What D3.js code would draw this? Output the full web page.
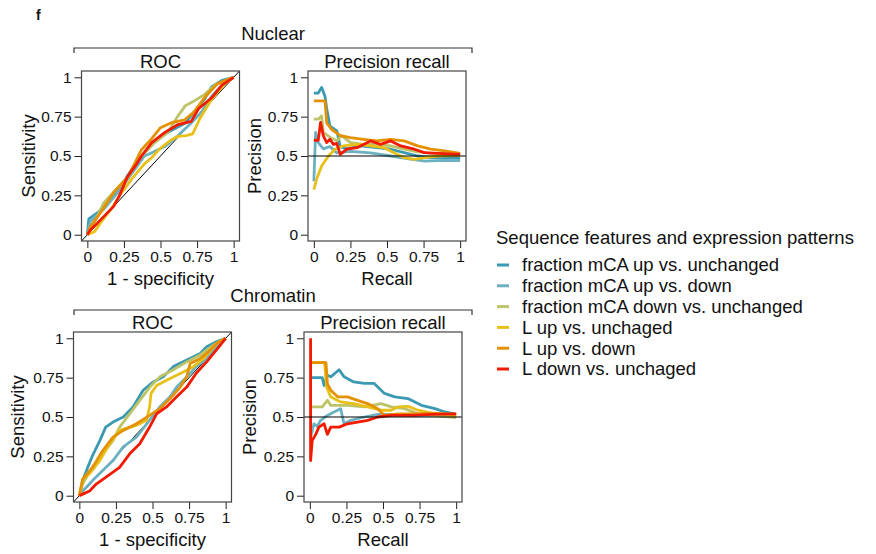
<!DOCTYPE html>
<html>
<head>
<meta charset="utf-8">
<script src="https://d3js.org/d3.v7.min.js"></script>
<style>
  body { margin: 0; background: #fff; }
  text { font-family: "Liberation Sans", Arial, Helvetica, sans-serif; fill: #111; }
</style>
</head>
<body>
<script>
// series, in drawing order (last one on top)
var seriesNames = ["fraction mCA up vs. unchanged", "fraction mCA up vs. down",
  "fraction mCA down vs. unchanged", "L up vs. unchaged", "L up vs. down", "L down vs. unchaged"];
var seriesColors = ["#3B9AB2", "#6CB1C1", "#BDC468", "#E7C019", "#E49100", "#F21A00"];
var tickValues = [0, 0.25, 0.5, 0.75, 1];
var tickLabels = ["0", "0.25", "0.5", "0.75", "1"];

// Nuclear, ROC: [1 - specificity, sensitivity]
var nucRoc = [
  [[0,0],[0.01,0.1],[0.07,0.14],[0.14,0.2],[0.23,0.31],[0.32,0.44],[0.39,0.52],[0.48,0.61],[0.57,0.66],[0.67,0.71],[0.73,0.78],[0.8,0.86],[0.85,0.94],[0.92,0.98],[1,1]],
  [[0,0],[0.02,0.085],[0.11,0.16],[0.21,0.27],[0.32,0.41],[0.39,0.5],[0.44,0.52],[0.53,0.56],[0.62,0.63],[0.71,0.71],[0.78,0.78],[0.85,0.88],[0.92,0.95],[1,1]],
  [[0,0],[0.04,0.06],[0.07,0.12],[0.11,0.2],[0.18,0.27],[0.28,0.37],[0.37,0.5],[0.46,0.585],[0.55,0.65],[0.62,0.755],[0.67,0.82],[0.73,0.85],[0.8,0.89],[0.87,0.95],[1,1]],
  [[0,0],[0.05,0.02],[0.09,0.075],[0.16,0.16],[0.23,0.26],[0.3,0.35],[0.39,0.45],[0.44,0.49],[0.5,0.55],[0.57,0.6],[0.62,0.625],[0.675,0.63],[0.72,0.64],[0.77,0.74],[0.85,0.86],[0.94,0.96],[1,1]],
  [[0,0],[0.02,0.05],[0.09,0.14],[0.18,0.27],[0.28,0.37],[0.37,0.54],[0.44,0.61],[0.5,0.68],[0.57,0.71],[0.665,0.73],[0.73,0.78],[0.8,0.87],[0.89,0.96],[1,1]],
  [[0,0],[0.02,0.03],[0.07,0.075],[0.18,0.18],[0.22,0.25],[0.275,0.37],[0.33,0.44],[0.37,0.5],[0.44,0.585],[0.53,0.65],[0.62,0.7],[0.71,0.72],[0.76,0.8],[0.85,0.87],[0.92,0.95],[1,1]]
];

// Nuclear, precision recall: [recall, precision]
var nucPr = [
  [[0,0.9],[0.03,0.9],[0.053,0.936],[0.076,0.88],[0.088,0.8],[0.11,0.69],[0.157,0.66],[0.18,0.56],[0.226,0.545],[0.318,0.564],[0.43,0.553],[0.525,0.543],[0.617,0.521],[0.71,0.5],[0.8,0.49],[0.894,0.49],[1,0.485]],
  [[0,0.34],[0.012,0.65],[0.03,0.585],[0.065,0.545],[0.11,0.56],[0.157,0.52],[0.25,0.53],[0.387,0.52],[0.525,0.5],[0.66,0.48],[0.756,0.468],[0.894,0.472],[1,0.47]],
  [[0,0.734],[0.03,0.734],[0.053,0.755],[0.065,0.65],[0.11,0.62],[0.157,0.596],[0.19,0.63],[0.25,0.585],[0.34,0.574],[0.43,0.574],[0.525,0.564],[0.617,0.543],[0.71,0.526],[0.8,0.517],[0.894,0.517],[1,0.51]],
  [[0,0.287],[0.018,0.35],[0.053,0.436],[0.1,0.5],[0.145,0.543],[0.2,0.564],[0.295,0.574],[0.387,0.564],[0.48,0.553],[0.548,0.521],[0.617,0.489],[0.687,0.479],[0.756,0.489],[0.848,0.5],[1,0.504]],
  [[0,0.85],[0.076,0.85],[0.088,0.71],[0.12,0.67],[0.18,0.63],[0.25,0.617],[0.34,0.606],[0.43,0.596],[0.525,0.606],[0.617,0.596],[0.71,0.564],[0.8,0.543],[0.894,0.532],[1,0.517]],
  [[0,0.6],[0.03,0.6],[0.046,0.713],[0.065,0.628],[0.088,0.585],[0.11,0.606],[0.134,0.574],[0.157,0.58],[0.18,0.51],[0.226,0.543],[0.295,0.553],[0.387,0.596],[0.456,0.574],[0.525,0.596],[0.594,0.564],[0.687,0.543],[0.756,0.521],[0.848,0.517],[1,0.51]]
];

// Chromatin, ROC
var chrRoc = [
  [[0,0],[0.023,0.096],[0.057,0.18],[0.09,0.255],[0.14,0.35],[0.18,0.436],[0.23,0.468],[0.3,0.5],[0.367,0.564],[0.436,0.67],[0.505,0.723],[0.573,0.755],[0.642,0.82],[0.734,0.862],[0.826,0.904],[0.87,0.947],[0.94,0.98],[1,1]],
  [[0,0],[0.023,0.03],[0.09,0.096],[0.16,0.16],[0.23,0.223],[0.3,0.31],[0.39,0.372],[0.48,0.48],[0.55,0.564],[0.62,0.628],[0.665,0.69],[0.734,0.755],[0.8,0.82],[0.87,0.872],[0.94,0.947],[1,1]],
  [[0,0],[0.023,0.075],[0.09,0.18],[0.16,0.266],[0.23,0.35],[0.275,0.436],[0.344,0.52],[0.413,0.606],[0.482,0.69],[0.55,0.755],[0.642,0.8],[0.734,0.85],[0.826,0.894],[0.917,0.957],[1,1]],
  [[0,0],[0.023,0.106],[0.07,0.14],[0.14,0.223],[0.206,0.33],[0.275,0.415],[0.39,0.447],[0.46,0.48],[0.48,0.564],[0.49,0.65],[0.528,0.7],[0.596,0.734],[0.69,0.777],[0.78,0.82],[0.85,0.872],[0.94,0.968],[1,1]],
  [[0,0],[0.023,0.106],[0.09,0.18],[0.16,0.287],[0.23,0.372],[0.3,0.415],[0.39,0.457],[0.48,0.51],[0.55,0.553],[0.62,0.617],[0.69,0.69],[0.734,0.755],[0.757,0.84],[0.826,0.872],[0.87,0.904],[0.94,0.968],[1,1]],
  [[0,0],[0.023,0.01],[0.07,0.03],[0.115,0.074],[0.18,0.117],[0.275,0.18],[0.344,0.266],[0.413,0.33],[0.48,0.436],[0.528,0.52],[0.596,0.564],[0.665,0.628],[0.734,0.69],[0.8,0.78],[0.87,0.85],[0.94,0.93],[1,1]]
];

// Chromatin, precision recall
var chrPr = [
  [[0,0.75],[0.085,0.75],[0.097,0.7],[0.12,0.766],[0.143,0.755],[0.2,0.8],[0.234,0.755],[0.3,0.723],[0.372,0.713],[0.44,0.713],[0.51,0.65],[0.58,0.628],[0.67,0.617],[0.763,0.574],[0.855,0.553],[0.924,0.532],[1,0.517]],
  [[0.005,0.37],[0.028,0.457],[0.05,0.44],[0.074,0.479],[0.12,0.51],[0.165,0.532],[0.21,0.553],[0.234,0.457],[0.28,0.479],[0.372,0.5],[0.464,0.517],[0.6,0.517],[0.74,0.51],[0.878,0.51],[1,0.504]],
  [[0,0.564],[0.085,0.564],[0.12,0.606],[0.143,0.574],[0.257,0.574],[0.372,0.564],[0.487,0.585],[0.556,0.564],[0.648,0.553],[0.74,0.52],[0.832,0.51],[1,0.496]],
  [[0,0.845],[0.1,0.845],[0.115,0.69],[0.143,0.628],[0.21,0.596],[0.3,0.585],[0.395,0.564],[0.487,0.543],[0.556,0.543],[0.6,0.564],[0.67,0.568],[0.74,0.543],[0.832,0.525],[1,0.51]],
  [[0,0.845],[0.11,0.845],[0.12,0.71],[0.143,0.67],[0.19,0.628],[0.257,0.628],[0.326,0.606],[0.395,0.585],[0.464,0.553],[0.51,0.51],[0.6,0.52],[0.72,0.52],[0.832,0.525],[1,0.517]],
  [[0.005,1],[0.005,0.223],[0.016,0.35],[0.04,0.39],[0.062,0.436],[0.097,0.457],[0.12,0.39],[0.143,0.436],[0.2,0.436],[0.257,0.457],[0.326,0.468],[0.395,0.479],[0.464,0.5],[0.556,0.51],[0.7,0.51],[0.832,0.517],[1,0.52]]
];

var svg = d3.select("body").append("svg")
    .attr("width", 876)
    .attr("height", 554);

// one R style panel with a box, outward ticks and a reference line
function drawPanel(p) {
  var x = d3.scaleLinear().domain([-0.04, 1.04]).range([p.x, p.x + p.w]);
  var y = d3.scaleLinear().domain([-0.04, 1.04]).range([p.y + p.h, p.y]);
  var g = svg.append("g");

  var clipId = "clip" + p.id;
  g.append("clipPath").attr("id", clipId)
    .append("rect").attr("x", p.x).attr("y", p.y).attr("width", p.w).attr("height", p.h);

  var plot = g.append("g").attr("clip-path", "url(#" + clipId + ")");
  if (p.kind === "roc") {
    plot.append("line")
      .attr("x1", x(-0.04)).attr("y1", y(-0.04))
      .attr("x2", x(1.04)).attr("y2", y(1.04))
      .attr("stroke", "#000").attr("stroke-width", 1);
  }

  var line = d3.line().x(function (d) { return x(d[0]); }).y(function (d) { return y(d[1]); });
  plot.selectAll("path.curve")
    .data(p.data)
    .enter()
    .append("path")
      .attr("class", "curve")
      .attr("d", line)
      .attr("fill", "none")
      .attr("stroke", function (d, i) { return seriesColors[i]; })
      .attr("stroke-width", 2.8)
      .attr("stroke-linejoin", "round");

  if (p.kind === "pr") {
    plot.append("line")
      .attr("x1", p.x).attr("x2", p.x + p.w)
      .attr("y1", y(0.5)).attr("y2", y(0.5))
      .attr("stroke", "#000").attr("stroke-width", 1.2);
  }

  var fmt = function (d, i) { return tickLabels[i]; };
  var xa = g.append("g").attr("transform", "translate(0," + (p.y + p.h) + ")")
    .call(d3.axisBottom(x).tickValues(tickValues).tickFormat(fmt).tickSize(7).tickPadding(3));
  var ya = g.append("g").attr("transform", "translate(" + p.x + ",0)")
    .call(d3.axisLeft(y).tickValues(tickValues).tickFormat(fmt).tickSize(7).tickPadding(3));
  [xa, ya].forEach(function (a) {
    a.select(".domain").remove();
    a.selectAll("line").attr("stroke", "#222");
    a.selectAll("text").style("font-size", "15.5px").attr("fill", "#111")
      .style("font-family", "'Liberation Sans', Arial, Helvetica, sans-serif");
  });

  g.append("rect")
    .attr("x", p.x).attr("y", p.y).attr("width", p.w).attr("height", p.h)
    .attr("fill", "none").attr("stroke", "#444").attr("stroke-width", 1.2);

  g.append("text")
    .attr("x", p.x + p.w / 2).attr("y", p.y - 3)
    .attr("text-anchor", "middle").style("font-size", "18.5px")
    .text(p.title);
  g.append("text")
    .attr("x", (x(0) + x(1)) / 2).attr("y", p.y + p.h + 44)
    .attr("text-anchor", "middle").style("font-size", "18.5px")
    .text(p.xlab);
  g.append("text")
    .attr("transform", "translate(" + p.ylabX + "," + (y(0.5)) + ") rotate(-90)")
    .attr("text-anchor", "middle").attr("dy", "0.35em").style("font-size", "18.5px")
    .text(p.ylab);
}

function drawGroup(label, top) {
  svg.append("path")
    .attr("d", "M74," + (top + 5) + "V" + top + "H472V" + (top + 5))
    .attr("fill", "none").attr("stroke", "#333").attr("stroke-width", 1.2);
  svg.append("text")
    .attr("x", 273).attr("y", top - 8)
    .attr("text-anchor", "middle").style("font-size", "18.5px")
    .text(label);
}

svg.append("text")
  .attr("x", 36).attr("y", 20)
  .style("font-size", "14px").style("font-weight", "bold")
  .text("f");

drawGroup("Nuclear", 48);
drawPanel({ id: 1, kind: "roc", x: 81.5, y: 71, w: 158, h: 170, data: nucRoc,
  title: "ROC", xlab: "1 - specificity", ylab: "Sensitivity", ylabX: 29 });
drawPanel({ id: 2, kind: "pr", x: 308, y: 71, w: 158, h: 170, data: nucPr,
  title: "Precision recall", xlab: "Recall", ylab: "Precision", ylabX: 255 });

drawGroup("Chromatin", 310);
drawPanel({ id: 3, kind: "roc", x: 73.5, y: 332, w: 158, h: 170, data: chrRoc,
  title: "ROC", xlab: "1 - specificity", ylab: "Sensitivity", ylabX: 18 });
drawPanel({ id: 4, kind: "pr", x: 304, y: 332, w: 158, h: 170, data: chrPr,
  title: "Precision recall", xlab: "Recall", ylab: "Precision", ylabX: 250 });

// legend
var legend = svg.append("g").attr("transform", "translate(496,0)");
legend.append("text")
  .attr("x", 0).attr("y", 244)
  .style("font-size", "18.5px")
  .text("Sequence features and expression patterns");
var rows = legend.selectAll("g.row")
  .data(seriesNames)
  .enter()
  .append("g")
    .attr("class", "row")
    .attr("transform", function (d, i) { return "translate(0," + (265 + i * 20.8) + ")"; });
rows.append("line")
  .attr("x1", 1).attr("x2", 13).attr("y1", 0).attr("y2", 0)
  .attr("stroke", function (d, i) { return seriesColors[i]; })
  .attr("stroke-width", 3);
rows.append("text")
  .attr("x", 26).attr("y", 0).attr("dy", "0.35em")
  .style("font-size", "18.5px")
  .text(function (d) { return d; });
</script>
</body>
</html>
